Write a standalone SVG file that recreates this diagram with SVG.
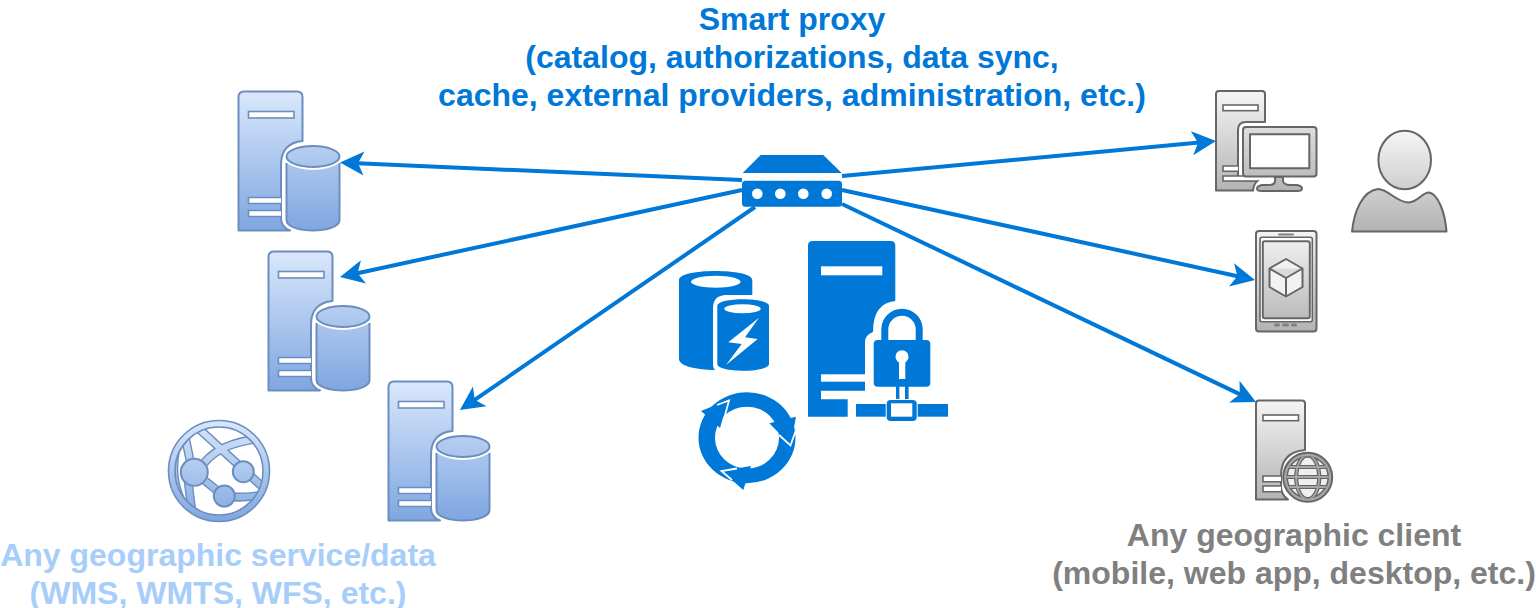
<svg xmlns="http://www.w3.org/2000/svg" width="1536" height="608" viewBox="0 0 1536 608">
<style>
text{font-family:"Liberation Sans",Arial,sans-serif;font-weight:bold;font-size:32px;text-anchor:middle}
.top{fill:#0078d7}.svc{fill:#a7cdfa}.cli{fill:#808080}
.conn{fill:none;stroke:#0078d7;stroke-width:4;marker-end:url(#arrow)}
.b{stroke:#6c8ebf;stroke-width:2;stroke-linejoin:round}
.g{stroke:#666666;stroke-width:2;stroke-linejoin:round}
.blue{fill:#0078d7}
.slotb{fill:#fff;stroke:#6c8ebf;stroke-width:1.6}
.slotg{fill:#fff;stroke:#666666;stroke-width:1.6}
</style>
<defs>
<marker id="arrow" markerUnits="userSpaceOnUse" markerWidth="24" markerHeight="26" viewBox="0 0 24 26" refX="18" refY="13" orient="auto"><path d="M24 13 L0 1 L6 13 L0 25 Z" fill="#0078d7"/></marker>
<linearGradient id="bg" gradientUnits="userSpaceOnUse" x1="0" y1="0" x2="0" y2="140"><stop offset="0" stop-color="#dae8fc"/><stop offset="1" stop-color="#7ea6e0"/></linearGradient>
<linearGradient id="bw" gradientUnits="userSpaceOnUse" x1="0" y1="420" x2="0" y2="522"><stop offset="0" stop-color="#dae8fc"/><stop offset="1" stop-color="#7ea6e0"/></linearGradient>
<linearGradient id="gd" gradientUnits="userSpaceOnUse" x1="0" y1="91" x2="0" y2="191"><stop offset="0" stop-color="#f5f5f5"/><stop offset="1" stop-color="#b3b3b3"/></linearGradient>
<linearGradient id="gp" gradientUnits="userSpaceOnUse" x1="0" y1="131" x2="0" y2="231"><stop offset="0" stop-color="#f5f5f5"/><stop offset="1" stop-color="#b3b3b3"/></linearGradient>
<linearGradient id="gt" gradientUnits="userSpaceOnUse" x1="0" y1="231" x2="0" y2="331"><stop offset="0" stop-color="#f5f5f5"/><stop offset="1" stop-color="#b3b3b3"/></linearGradient>
<linearGradient id="gw" gradientUnits="userSpaceOnUse" x1="0" y1="400" x2="0" y2="500"><stop offset="0" stop-color="#f5f5f5"/><stop offset="1" stop-color="#b3b3b3"/></linearGradient>
<clipPath id="wclip"><circle cx="219" cy="471" r="46"/></clipPath>
<clipPath id="eclip"><circle cx="1307.7" cy="477.3" r="21"/></clipPath>
<g id="dbserver">
<path class="b" fill="url(#bg)" d="M0.5 6 Q0.5 0.5 6 0.5 H59 Q64.5 0.5 64.5 6 V50 Q43 52 43 74 V127 Q43 136 52 139.5 H0.5 Z"/>
<rect class="slotb" x="10.5" y="20.5" width="45.5" height="6.5"/>
<path fill="#fff" stroke="#6c8ebf" stroke-width="1.6" d="M43 106.5 H10.5 V112.5 H43 M43 119.5 H10.5 V125.5 H43"/>
<path fill="url(#bg)" d="M48.5 72 Q60 79 75 79 Q90 79 101.5 72 V129 C101.5 136 88 139.5 75 139.5 C62 139.5 48.5 136 48.5 129 Z"/>
<path fill="none" class="b" d="M48.5 72 V129 C48.5 136 62 139.5 75 139.5 C88 139.5 101.5 136 101.5 129 V72"/>
<ellipse class="b" fill="url(#bg)" cx="75" cy="65.5" rx="26.5" ry="10.5"/>
</g>
</defs>
<rect width="1536" height="608" fill="#fff"/>

<g id="connectors">
<path class="conn" d="M742 180 L346 162.8"/>
<path class="conn" d="M742 190 L345.9 275.7"/>
<path class="conn" d="M755 207 L464.9 406.6"/>
<path class="conn" d="M842 176 L1210 141.6"/>
<path class="conn" d="M842 190 L1249.1 278.7"/>
<path class="conn" d="M842 204 L1250.6 399.4"/>
</g>

<g id="db-server-1"><use href="#dbserver" x="238" y="91"/></g>
<g id="db-server-2"><use href="#dbserver" x="268" y="251"/></g>
<g id="db-server-3"><use href="#dbserver" x="388" y="381"/></g>

<g id="web-service">
<circle cx="219" cy="471" r="46" fill="#fff"/>
<g clip-path="url(#wclip)" fill="none">
<g stroke="#6c8ebf" stroke-width="9" stroke-linecap="round">
<path d="M198 428 L266 490"/><path d="M185 436 L192 470"/><path d="M205 462 Q220 444 256 439"/>
<path d="M194 472 L224 496 Q245 499 266 494"/><path d="M188 480 L192 512"/><path d="M176 448 Q170 475 180 498"/>
</g>
<g stroke="url(#bw)" stroke-width="6.2" stroke-linecap="round">
<path d="M198 428 L266 490"/><path d="M185 436 L192 470"/><path d="M205 462 Q220 444 256 439"/>
<path d="M194 472 L224 496 Q245 499 266 494"/><path d="M188 480 L192 512"/><path d="M176 448 Q170 475 180 498"/>
</g>
</g>
<circle class="b" fill="url(#bw)" cx="194.3" cy="472.3" r="13.5"/>
<circle class="b" fill="url(#bw)" cx="243.3" cy="471.7" r="10.5"/>
<circle class="b" fill="url(#bw)" cx="224.3" cy="496" r="10.5"/>
<path fill="url(#bw)" stroke="#6c8ebf" stroke-width="1.6" fill-rule="evenodd" d="M269.5 471 A50.5 50.5 0 1 1 168.5 471 A50.5 50.5 0 1 1 269.5 471 Z M263 471 A44 44 0 1 0 175 471 A44 44 0 1 0 263 471 Z"/>
</g>

<g id="proxy-router" class="blue">
<path d="M760.7 155 H823.3 L841.7 173 H742.7 Z"/>
<rect x="742" y="180.7" width="100" height="26" rx="3.5"/>
<g fill="#fff"><circle cx="757.3" cy="193.7" r="5.3"/><circle cx="780.3" cy="193.7" r="5.3"/><circle cx="803.3" cy="193.7" r="5.3"/><circle cx="826.7" cy="193.7" r="5.3"/></g>
</g>

<g id="cache-db">
<path class="blue" d="M679 280 C679 274 697 271 715.5 271 C734 271 752.3 274 752.3 280 V295 H725 Q713 296 713 308 V365 Q713 368 715 370 C697 370 679 366 679 359 Z"/>
<ellipse cx="715.8" cy="281.7" rx="24.8" ry="6" fill="#fff"/>
<path class="blue" d="M717.3 306 C717.3 301.5 730 299.3 743 299.3 C756 299.3 769 301.5 769 306 V364 C769 368.5 756 370.7 743 370.7 C730 370.7 717.3 368.5 717.3 364 Z"/>
<ellipse cx="742.5" cy="308.8" rx="18.2" ry="4.5" fill="#fff"/>
<path fill="#fff" d="M759 317.7 L728.3 342.3 L741.7 344 L726 365 L757.7 339 L745 337.3 Z"/>
</g>

<g id="secure-server">
<path class="blue" d="M808 245.5 Q808 241 812.5 241 H891 Q895.3 241 895.3 245.5 V301 Q873 303 873 332 Q865 335 865 342 V390.7 H821 V399.3 H847.7 V416.7 H808 Z"/>
<rect x="821" y="266.3" width="61.3" height="9" fill="#fff"/>
<rect x="821" y="374.3" width="44" height="7.4" fill="#fff"/>
<path fill="none" stroke="#0078d7" stroke-width="7" d="M884.8 341 V329.5 A17.2 17.2 0 0 1 919.2 329.5 V341"/>
<rect class="blue" x="873.7" y="340" width="56.6" height="46.7" rx="4"/>
<circle cx="902" cy="356.7" r="6.5" fill="#fff"/>
<rect x="899" y="358" width="6.3" height="21" fill="#fff"/>
<rect class="blue" x="896" y="386" width="3.4" height="15"/>
<rect class="blue" x="905" y="386" width="3.6" height="15"/>
<rect class="blue" x="856" y="404" width="92" height="12.7"/>
<rect x="885.7" y="399" width="32" height="23" rx="4" fill="#fff"/>
<rect class="blue" x="886.7" y="400" width="30" height="21" rx="4"/>
<rect x="891" y="403.3" width="21.3" height="13.4" fill="#fff"/>
</g>

<g id="sync-cycle">
<path class="blue" fill-rule="evenodd" d="M795.5 437.7 A48.5 45.5 0 1 1 698.5 437.7 A48.5 45.5 0 1 1 795.5 437.7 Z M779 437.7 A32 31 0 1 0 715 437.7 A32 31 0 1 0 779 437.7 Z"/>
<path class="blue" d="M701 411 L728 400 L720 428 Z"/>
<path class="blue" d="M796 416.7 L790.7 445 L769.3 423.3 Z"/>
<path class="blue" d="M721.7 471 L751 466 L743.3 490 Z"/>
<g fill="none" stroke="#fff" stroke-width="1.8">
<path d="M717 405 L729 400.5 L723.5 421"/>
<path d="M796 430 L790.5 445.5 L779 435"/>
<path d="M737 468.5 L721.5 471 L732 480"/>
</g>
</g>

<g id="desktop-client">
<path class="g" fill="url(#gd)" d="M1216 94 Q1216 91 1219 91 H1262 Q1265 91 1265 94 V122 H1246 Q1238 122 1238 130 V180.5 H1258 Q1254 183 1253 190.5 H1216 Z"/>
<rect class="slotg" x="1223" y="105" width="35" height="5.7"/>
<path fill="#fff" stroke="#666666" stroke-width="1.6" d="M1238 166 H1223 V171.3 H1238 M1258 176 H1223 V181 H1258"/>
<rect class="g" fill="url(#gd)" x="1243" y="127" width="73.5" height="49.5" rx="3"/>
<rect class="g" fill="#fff" x="1250" y="134.3" width="59.3" height="34"/>
<path class="g" fill="url(#gd)" d="M1275 177 H1283 V181 Q1284 185 1290 185 H1297 Q1302 186 1302 188.5 Q1302 191 1297 191 H1262 Q1257 191 1257 188.5 Q1257 186 1262 185 H1268 Q1275 185 1275 181 Z"/>
</g>

<g id="user">
<ellipse class="g" fill="url(#gp)" cx="1404.7" cy="160" rx="26.3" ry="29.3"/>
<path class="g" fill="url(#gp)" d="M1352 231.5 C1354 212 1362 191 1378 189 C1388 189 1396 202 1408 202.5 C1418 203 1422 192 1429 192.5 C1438 194 1445 212 1446.5 231.5 Z"/>
</g>

<g id="mobile-client">
<rect class="g" fill="url(#gt)" x="1256" y="231" width="60.5" height="100.5" rx="3"/>
<rect x="1260" y="237.3" width="52.3" height="84.4" rx="2" fill="#fff" stroke="#666666" stroke-width="1.6"/>
<rect class="g" fill="url(#gt)" x="1262.8" y="241.3" width="47" height="77" rx="2"/>
<rect x="1278" y="233.5" width="16" height="2" rx="1" fill="#808080"/>
<g fill="#808080"><rect x="1274" y="323.5" width="6" height="3" rx="1.5"/><rect x="1282" y="323.5" width="7" height="3" rx="1.5"/><rect x="1291" y="323.5" width="6" height="3" rx="1.5"/></g>
<path fill="#f2f2f2" stroke="#666666" stroke-width="2" stroke-linejoin="round" d="M1286 259 L1302.5 268.5 V287 L1286 296.5 L1269.5 287 V268.5 Z M1269.5 268.5 L1286 278 L1302.5 268.5 M1286 278 V296.5"/>
</g>

<g id="web-client">
<path class="g" fill="url(#gw)" d="M1256 403.5 Q1256 400.5 1259 400.5 H1302 Q1305 400.5 1305 403.5 V450 Q1281 452 1281 476 V486 Q1281 495 1288 499.5 H1256 Z"/>
<rect class="slotg" x="1263" y="415" width="35.5" height="5.7"/>
<path fill="#fff" stroke="#666666" stroke-width="1.6" d="M1281 476 H1263 V481.7 H1281 M1281 486 H1263 V491.7 H1281"/>
<circle cx="1307.7" cy="477.3" r="24.5" fill="#a6a6a6" stroke="#666666" stroke-width="2"/>
<circle cx="1307.7" cy="477.3" r="20.5" fill="#efefef" stroke="#666666" stroke-width="1.5"/>
<g clip-path="url(#eclip)" fill="none">
<g stroke="#666666" stroke-width="4.2"><path d="M1285 467 H1330 M1285 477 H1330 M1285 487 H1330"/><ellipse cx="1307.7" cy="477.3" rx="11.5" ry="22"/></g>
<g stroke="#a6a6a6" stroke-width="1.8"><path d="M1285 467 H1330 M1285 477 H1330 M1285 487 H1330"/><ellipse cx="1307.7" cy="477.3" rx="11.5" ry="22"/></g>
</g>
</g>

<g id="labels">
<text class="top" x="792" y="30">Smart proxy</text>
<text class="top" x="792" y="68">(catalog, authorizations, data sync,</text>
<text class="top" x="792" y="106">cache, external providers, administration, etc.)</text>
<text class="svc" x="218" y="566">Any geographic service/data</text>
<text class="svc" x="218" y="604">(WMS, WMTS, WFS, etc.)</text>
<text class="cli" x="1294" y="546">Any geographic client</text>
<text class="cli" x="1294" y="584">(mobile, web app, desktop, etc.)</text>
</g>
</svg>
